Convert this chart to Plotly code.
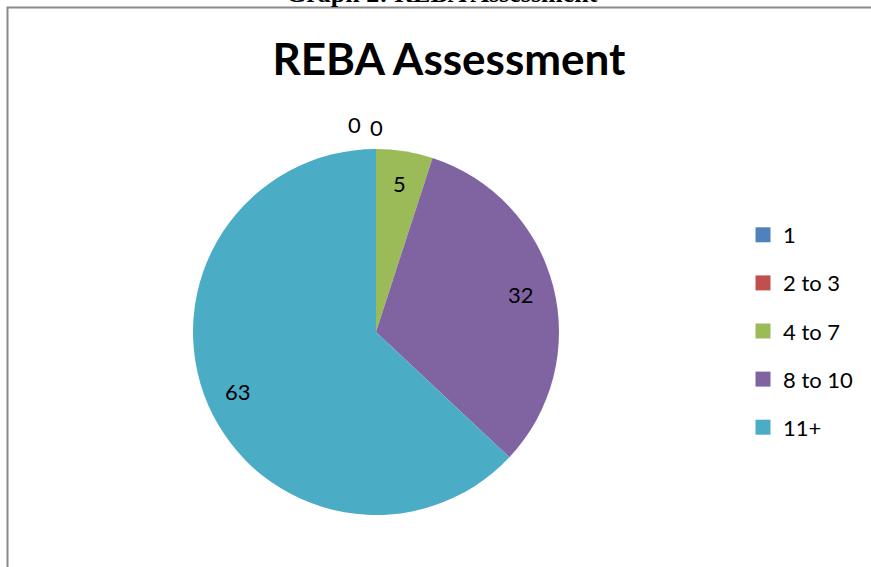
import math
import plotly.graph_objects as go

categories = ["1", "2 to 3", "4 to 7", "8 to 10", "11+"]
values = [0, 0, 5, 32, 63]
colors = ["#4F81BD", "#C0504D", "#9BBB59", "#8064A2", "#4BACC6"]

W, H = 871, 567
FONT = "Lato"


def fx(p):
    return p / W


def fy(p):
    return 1 - p / H


# pie geometry (pixels)
CX, CY, R = 376, 332, 183

fig = go.Figure()
fig.add_trace(go.Pie(
    labels=categories, values=values, sort=False, direction="clockwise", rotation=0,
    marker=dict(colors=colors, line=dict(width=0)),
    textinfo="none",
    domain=dict(x=[fx(CX - R), fx(CX + R)], y=[fy(CY + R), fy(CY - R)]),
    showlegend=False, hoverinfo="label+value",
))
# legend entries (one per category, to control the spacing)
for c, col in zip(categories, colors):
    fig.add_trace(go.Scatter(x=[None], y=[None], mode="markers", name=c, legendgroup=c,
                             marker=dict(symbol="square", size=15, color=col)))

# data labels, placed from the slice angles
total = sum(values)
annotations = []
cum = 0
zero_idx = [i for i, v in enumerate(values) if v == 0]
for i, v in enumerate(values):
    mid = (cum + v / 2) / total * 2 * math.pi
    cum += v
    if v == 0:
        k = zero_idx.index(i)
        rr = 1.115 * R
        x = CX + rr * math.sin(mid) + (k - (len(zero_idx) - 1)) * 22
        y = CY - rr * math.cos(mid) + (k - (len(zero_idx) - 1)) * 3
    else:
        rr = 0.82 * R
        x = CX + rr * math.sin(mid)
        y = CY - rr * math.cos(mid)
    annotations.append(dict(text=str(v), xref="paper", yref="paper", x=fx(x), y=fy(y),
                            xanchor="center", yanchor="middle", showarrow=False,
                            font=dict(family=FONT, size=22, color="black")))

annotations.append(dict(text="<b>Graph 2: REBA Assessment</b>", xref="paper", yref="paper",
                        x=fx(442), y=fy(10), xanchor="center", yanchor="bottom", showarrow=False,
                        font=dict(family="Liberation Serif", size=26, color="black")))

fig.update_layout(
    width=W, height=H, margin=dict(l=0, r=0, t=0, b=0),
    paper_bgcolor="white", plot_bgcolor="white",
    xaxis=dict(visible=False), yaxis=dict(visible=False),
    title=dict(text="<b>REBA Assessment</b>", x=fx(449), xanchor="center", xref="paper",
               y=fy(60), yanchor="middle", font=dict(family=FONT, size=44, color="black")),
    legend=dict(x=fx(743), y=fy(214), xanchor="left", yanchor="top",
                font=dict(family=FONT, size=22, color="black"), tracegroupgap=16.5,
                bgcolor="rgba(0,0,0,0)"),
    shapes=[dict(type="rect", xref="paper", yref="paper", x0=fx(7.5), x1=1.05, y0=-0.05, y1=fy(7.5),
                 line=dict(color="#8a8a8a", width=2), fillcolor="rgba(0,0,0,0)", layer="below")],
    annotations=annotations,
)
fig.write_html("out.html", post_script="document.body.style.margin='0';",
               config={"displayModeBar": False})
